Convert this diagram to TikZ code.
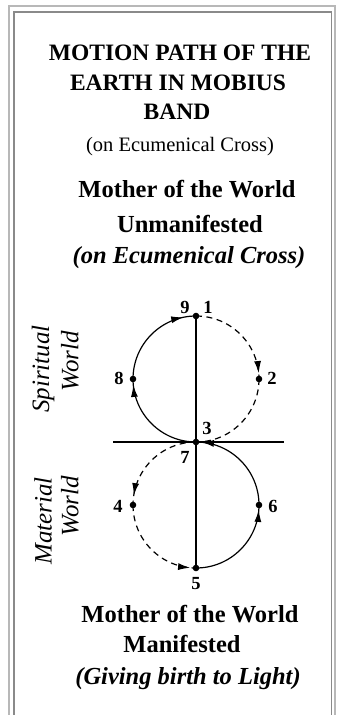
\documentclass[tikz,border=0pt]{standalone}
\usepackage{fontspec}
\setmainfont{Liberation Serif}[BoldFont={Liberation Serif Bold},ItalicFont={Liberation Serif Italic},BoldItalicFont={Liberation Serif Bold Italic}]
\usetikzlibrary{arrows.meta,decorations.markings}
\definecolor{framelight}{HTML}{B8B8B8}
\definecolor{framedark}{HTML}{8A8A8A}
\tikzset{
  titletext/.style={font=\bfseries\fontsize{23.5}{28}\selectfont, anchor=base, inner sep=0pt},
  subtext/.style={font=\fontsize{20.5}{24}\selectfont, anchor=base, inner sep=0pt},
  boldtext/.style={font=\bfseries\fontsize{24.5}{29}\selectfont, anchor=base, inner sep=0pt},
  bitext/.style={font=\bfseries\itshape\fontsize{24.5}{29}\selectfont, anchor=base, inner sep=0pt},
  sidetext/.style={font=\itshape\fontsize{25}{30}\selectfont, rotate=90, inner sep=0pt},
  numlbl/.style={font=\bfseries\fontsize{18.5}{22}\selectfont, inner sep=0pt},
  axisline/.style={line width=1.8pt},
  solidarc/.style={line width=1.2pt},
  dasharc/.style={line width=1.2pt, dash pattern=on 6pt off 4.5pt},
  arrowat/.style={postaction={decorate, decoration={markings,
      mark=at position #1 with {\arrow{Latex[length=12pt,width=7pt]}}}}},
  dotmark/.style={fill=black}
}
\begin{document}
\begin{tikzpicture}[x=1pt,y=1pt]
\useasboundingbox (0,0) rectangle (337,-715);
% frame
\draw[framelight, line width=1.5pt] (9,-715) -- (9,-6) -- (335,-6) -- (335,-715);
\draw[framedark, line width=1.5pt] (14,-715) -- (14,-12) -- (331.5,-12) -- (331.5,-715);

% texts
\node[titletext] (t1) at (180,-60) {MOTION PATH OF THE};
\node[titletext] (t2) at (178,-90) {EARTH IN MOBIUS};
\node[titletext] (t3) at (177,-119) {BAND};
\node[subtext] (t4) at (180,-151) {(on Ecumenical Cross)};
\node[boldtext] (m1) at (187,-197) {Mother of the World};
\node[boldtext] (m2) at (190,-232) {Unmanifested};
\node[bitext] (m3) at (189,-263) {(on Ecumenical Cross)};
\node[boldtext] (b1) at (190,-622) {Mother of the World};
\node[boldtext] (b2) at (182,-652) {Manifested};
\node[bitext] (b3) at (188,-684) {(Giving birth to Light)};

\node[sidetext] (s1) at (43,-369) {Spiritual};
\node[sidetext] (s2) at (70,-361) {World};
\node[sidetext] (s3) at (43,-521) {Material};
\node[sidetext] (s4) at (70,-506) {World};

% diagram points
\coordinate (p1) at (196,-316);
\coordinate (p2) at (259,-379);
\coordinate (p3) at (196,-442);
\coordinate (p4) at (133,-505);
\coordinate (p5) at (196,-568);
\coordinate (p6) at (259,-505);
\coordinate (p8) at (133,-379);
\coordinate (hl) at (113,-442);
\coordinate (hr) at (284,-442);

% axes
\draw[axisline] (hl) -- (hr);
\draw[axisline] (p1) -- (p5);

% arcs
\draw[dasharc, arrowat=0.94] (p1) arc[start angle=90, end angle=0, radius=63];
\draw[dasharc] (p2) arc[start angle=0, end angle=-90, radius=63];
\draw[dasharc, arrowat=0.90] (p3) arc[start angle=90, end angle=180, radius=63];
\draw[dasharc, arrowat=0.94] (p4) arc[start angle=180, end angle=270, radius=63];
\draw[solidarc, arrowat=0.95] (p5) arc[start angle=-90, end angle=0, radius=63];
\draw[solidarc, arrowat=0.94] (p6) arc[start angle=0, end angle=90, radius=63];
\draw[solidarc, arrowat=0.94] (p3) arc[start angle=270, end angle=180, radius=63];
\draw[solidarc, arrowat=0.87] (p8) arc[start angle=180, end angle=90, radius=63];

% dots
\foreach \p in {p1,p2,p3,p4,p5,p6,p8} \fill[dotmark] (\p) circle (3.3);

% number labels
\node[numlbl] (n9) at (185,-307) {9};
\node[numlbl] (n1) at (208,-307) {1};
\node[numlbl] (n8) at (119,-378) {8};
\node[numlbl] (n2) at (272,-378) {2};
\node[numlbl] (n3) at (207,-428) {3};
\node[numlbl] (n7) at (185,-457) {7};
\node[numlbl] (n4) at (118,-506) {4};
\node[numlbl] (n6) at (273,-506) {6};
\node[numlbl] (n5) at (196,-584) {5};
\end{tikzpicture}
\end{document}
